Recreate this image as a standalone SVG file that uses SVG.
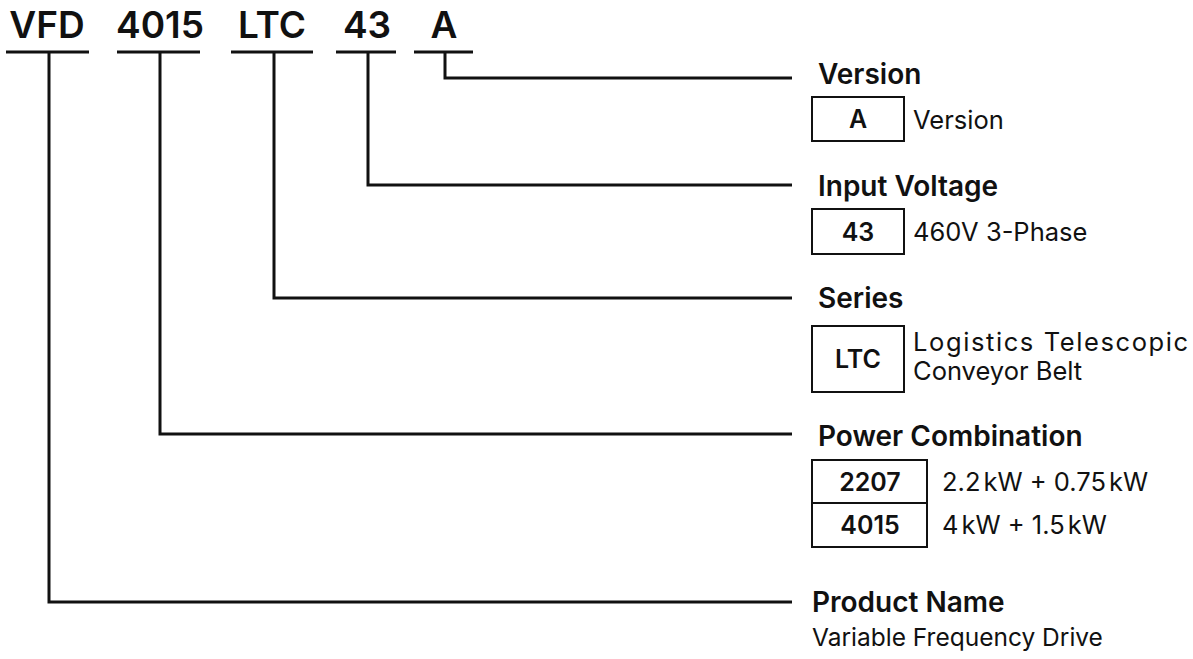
<svg xmlns="http://www.w3.org/2000/svg" width="1193" height="659" viewBox="0 0 1193 659">
<style>
.code{font-family:Inter,"Liberation Sans",sans-serif;font-weight:600;font-size:37px;fill:#111;text-anchor:middle}
.title{font-family:Inter,"Liberation Sans",sans-serif;font-weight:600;font-size:28px;fill:#111}
.body{font-family:Inter,"Liberation Sans",sans-serif;font-size:25.5px;fill:#111}
.bl{font-family:Inter,"Liberation Sans",sans-serif;font-weight:600;font-size:25px;fill:#111;text-anchor:middle}
.ln{stroke:#111;stroke-width:3;fill:none}
.box{stroke:#111;stroke-width:2;fill:#fff}
</style>
<g id="code">
<text class="code" x="47" y="38">VFD</text>
<text class="code" x="160" y="38">4015</text>
<text class="code" x="272" y="38">LTC</text>
<text class="code" x="367" y="38">43</text>
<text class="code" x="444" y="38">A</text>
<path class="ln" d="M6 52H89M117 52H200M231 52H313M336 52H396M414 52H473"/>
</g>
<g id="connectors">
<path class="ln" d="M49 52V602H792"/>
<path class="ln" d="M160 52V434H792"/>
<path class="ln" d="M274 52V298H792"/>
<path class="ln" d="M368 52V185H792"/>
<path class="ln" d="M445 52V78H792"/>
</g>
<g id="version">
<text class="title" x="818" y="84">Version</text>
<rect class="box" x="812" y="97" width="92" height="44"/>
<text class="bl" x="858" y="128">A</text>
<text class="body" x="913" y="129">Version</text>
</g>
<g id="voltage">
<text class="title" x="818" y="196">Input Voltage</text>
<rect class="box" x="812" y="209" width="92" height="45"/>
<text class="bl" x="858" y="241">43</text>
<text class="body" x="913" y="241">460V 3-Phase</text>
</g>
<g id="series">
<text class="title" x="818" y="308">Series</text>
<rect class="box" x="812" y="326" width="92" height="66"/>
<text class="bl" x="858" y="368">LTC</text>
<text class="body" x="913" y="351" letter-spacing="1.6">Logistics Telescopic</text>
<text class="body" x="913" y="380">Conveyor Belt</text>
</g>
<g id="power">
<text class="title" x="818" y="446">Power Combination</text>
<rect class="box" x="812" y="460" width="115" height="43"/>
<rect class="box" x="812" y="503" width="115" height="44"/>
<text class="bl" x="870" y="491">2207</text>
<text class="bl" x="870" y="534">4015</text>
<text class="body" x="942" y="491">2.2<tspan dx="3">kW + 0.75</tspan><tspan dx="3">kW</tspan></text>
<text class="body" x="942" y="534">4<tspan dx="3">kW + 1.5</tspan><tspan dx="3">kW</tspan></text>
</g>
<g id="product">
<text class="title" x="812" y="612">Product Name</text>
<text class="body" x="812" y="646" style="font-size:24.5px">Variable Frequency Drive</text>
</g>
</svg>
